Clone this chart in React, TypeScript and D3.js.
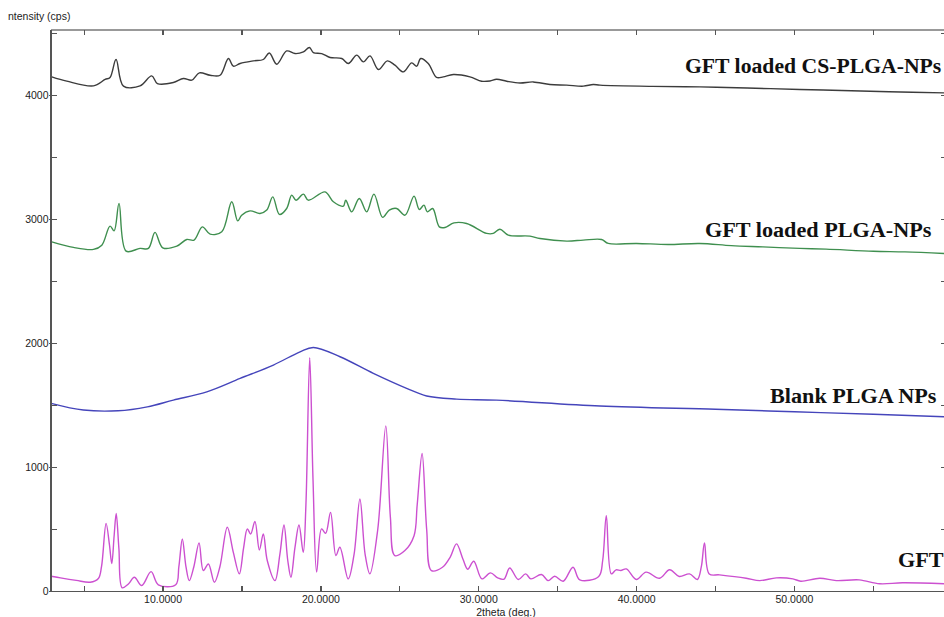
import React, { useRef, useEffect } from 'react';
import * as d3 from 'd3';

// [2theta (deg.), intensity (cps)]
const gftCsPlga: [number, number][] = [
  [2.95, 4152], [3.9, 4117], [5.59, 4079], [6.33, 4131], [6.64, 4147], [7.02, 4292], [7.49, 4077],
  [8.54, 4079], [9.28, 4160], [9.64, 4098], [10.65, 4106], [11.29, 4139], [11.82, 4125], [12.3, 4184],
  [12.98, 4165], [13.61, 4165], [14.14, 4300], [14.45, 4238], [14.88, 4260], [15.72, 4281], [16.35, 4292],
  [16.73, 4345], [17.2, 4254], [17.83, 4361], [18.36, 4340], [18.89, 4353], [19.27, 4389], [19.52, 4348],
  [20.05, 4340], [20.58, 4308], [21.32, 4300], [21.74, 4260], [22.27, 4327], [22.69, 4273], [23.11, 4321],
  [23.64, 4211], [24.21, 4281], [24.69, 4246], [25.22, 4192], [25.75, 4265], [26.07, 4238], [26.32, 4300],
  [26.8, 4260], [27.33, 4147], [27.75, 4152], [28.39, 4171], [29.44, 4152], [30.18, 4117], [30.71, 4119],
  [31.13, 4133], [31.77, 4117], [32.61, 4103], [33.45, 4111], [34.51, 4090], [35.57, 4085], [36.62, 4077],
  [37.25, 4090], [37.68, 4085], [41, 4075], [44.01, 4071], [47, 4062], [50.34, 4050], [53, 4042],
  [56, 4032], [59.5, 4023],
];

const gftPlga: [number, number][] = [
  [2.95, 2821], [4.32, 2776], [5.59, 2760], [6.12, 2794], [6.64, 2948], [6.9, 2910], [7.21, 3131],
  [7.66, 2746], [8.54, 2768], [9.07, 2768], [9.49, 2897], [9.98, 2773], [10.87, 2786], [11.5, 2840],
  [11.96, 2835], [12.49, 2942], [12.98, 2883], [13.72, 2902], [14.35, 3144], [14.73, 2990], [14.98, 3036],
  [15.51, 3071], [16.14, 3050], [16.57, 3077], [16.95, 3184], [17.37, 3042], [17.83, 3090], [18.15, 3198],
  [18.42, 3157], [18.89, 3206], [19.2, 3157], [20.26, 3224], [20.79, 3144], [21.42, 3109], [21.57, 3157],
  [21.95, 3063], [22.43, 3171], [22.9, 3063], [23.36, 3206], [23.91, 3018], [24.33, 3077], [24.8, 3090],
  [25.33, 3036], [25.9, 3190], [26.23, 3082], [26.53, 3117], [26.74, 3063], [27.08, 3090], [27.5, 2942],
  [27.86, 2937], [28.43, 2974], [29.23, 2969], [30.5, 2889], [30.92, 2889], [31.34, 2923], [31.87, 2875],
  [33.24, 2867], [33.88, 2848], [35.57, 2827], [36.62, 2835], [37.78, 2840], [38.2, 2808], [40, 2808],
  [42, 2800], [44, 2808], [46, 2790], [48, 2780], [50.34, 2768], [52, 2762], [55, 2745], [57, 2740],
  [59.5, 2727],
];

const blankPlga: [number, number][] = [
  [2.91, 1518], [4.95, 1464], [7.15, 1458], [9, 1490], [10.65, 1544], [12.77, 1611], [14.88, 1719],
  [16.99, 1827], [18.68, 1934], [19.52, 1969], [21.21, 1894], [23.32, 1760], [25.43, 1639], [26.7, 1577],
  [28.6, 1552], [31.13, 1544], [37.68, 1496], [45, 1470], [50, 1450], [55, 1430], [59.5, 1410],
];

const gft: [number, number][] = [
  [2.91, 123], [3.5, 110], [4.5, 90], [5.38, 75], [5.9, 105], [6.1, 200], [6.39, 550], [6.6, 380],
  [6.75, 225], [6.9, 450], [7.03, 630], [7.2, 350], [7.41, 30], [7.8, 60], [8.18, 115], [8.65, 48],
  [9.24, 160], [9.7, 54], [10.8, 54], [11.0, 200], [11.22, 424], [11.45, 200], [11.66, 88], [11.95, 200],
  [12.28, 392], [12.55, 169], [12.87, 222], [13.25, 75], [13.6, 200], [14.07, 518], [14.45, 316],
  [14.83, 142], [15.1, 350], [15.34, 505], [15.55, 464], [15.82, 566], [16.1, 335], [16.35, 464],
  [16.6, 250], [17.09, 88], [17.4, 300], [17.66, 537], [17.9, 250], [18.1, 115], [18.35, 350], [18.61, 537],
  [18.88, 316], [19.05, 700], [19.29, 1886], [19.5, 900], [19.73, 156], [20.04, 505], [20.3, 470],
  [20.61, 638], [20.95, 290], [21.2, 357], [21.73, 102], [22.1, 300], [22.47, 746], [22.8, 300],
  [23.1, 142], [23.6, 500], [24.11, 1336], [24.4, 600], [24.68, 290], [25.32, 330], [25.9, 450],
  [26.1, 700], [26.41, 1113], [26.7, 500], [27.0, 169], [27.7, 196], [28.2, 280], [28.59, 384],
  [29.0, 260], [29.3, 180], [29.68, 244], [30.2, 102], [30.74, 150], [31.2, 110], [31.6, 100],
  [31.96, 190], [32.5, 97], [32.97, 142], [33.3, 102], [33.97, 137], [34.4, 88], [34.81, 123],
  [35.35, 83], [35.97, 196], [36.4, 94], [37.6, 121], [37.85, 250], [38.08, 612], [38.4, 142],
  [38.7, 175], [39.0, 169], [39.35, 182], [39.98, 97], [40.6, 156], [41.45, 107], [42.09, 175],
  [42.7, 121], [43.35, 142], [43.85, 97], [44.1, 200], [44.3, 392], [44.6, 142], [45.25, 134],
  [46.94, 107], [47.8, 88], [48.85, 110], [49.9, 102], [50.4, 83], [51.6, 107], [52.65, 88], [54.1, 94],
  [55.4, 62], [56.85, 70], [59.5, 62],
];

const seriesNames = ['GFT loaded CS-PLGA-NPs', 'GFT loaded PLGA-NPs', 'Blank PLGA NPs', 'GFT'];
const xLabelTicks = [10, 20, 30, 40, 50];
const xMinorTicks = [5, 15, 25, 35, 45, 55];
const yLabelTicks = [0, 1000, 2000, 3000, 4000];
const yMinorTicks = [500, 1500, 2500, 3500, 4500];

const XRDChart = () => {
  const ref = useRef<SVGSVGElement>(null);

  useEffect(() => {
    const svg = d3.select(ref.current);
    svg.selectAll('*').remove();

    const left = 51, right = 946, top = 30, bottom = 591.5;
    const x = d3.scaleLinear().domain([2.9, 59.6]).range([left, right]);
    const y = d3.scaleLinear().domain([0, 4530]).range([bottom, top]);

    // label positions; the first one is squeezed a bit so it stays inside the frame
    const series = [
      { name: seriesNames[0], data: gftCsPlga, color: '#3c3c3c', lx: 685, ly: 73, sx: 1.085 },
      { name: seriesNames[1], data: gftPlga, color: '#3f8f4f', lx: 705, ly: 237, sx: 1.11 },
      { name: seriesNames[2], data: blankPlga, color: '#4545bb', lx: 770, ly: 402.5, sx: 1.11 },
      { name: seriesNames[3], data: gft, color: '#cc50d0', lx: 898, ly: 567, sx: 1.11 },
    ];

    const line = d3.line<[number, number]>()
      .x(d => x(d[0]))
      .y(d => y(d[1]))
      .curve(d3.curveCatmullRom.alpha(0.5));

    const plot = svg.append('g');
    series.forEach(s => {
      plot.append('path')
        .datum(s.data)
        .attr('fill', 'none')
        .attr('stroke', s.color)
        .attr('stroke-width', 1.4)
        .attr('stroke-linejoin', 'round')
        .attr('d', line);
    });

    // frame
    const axes = svg.append('g').attr('shape-rendering', 'crispEdges');
    axes.append('line').attr('x1', left).attr('x2', right).attr('y1', top).attr('y2', top)
      .attr('stroke', '#999').attr('stroke-width', 1.5);
    axes.append('line').attr('x1', left).attr('x2', left).attr('y1', top).attr('y2', bottom)
      .attr('stroke', '#555').attr('stroke-width', 1.5);
    axes.append('line').attr('x1', left).attr('x2', right).attr('y1', bottom).attr('y2', bottom)
      .attr('stroke', '#555').attr('stroke-width', 1.5);
    axes.append('line').attr('x1', right).attr('x2', right).attr('y1', top).attr('y2', bottom)
      .attr('stroke', '#555').attr('stroke-width', 1.5);

    // x ticks, bottom and top, pointing inwards
    [...xLabelTicks, ...xMinorTicks].forEach(t => {
      axes.append('line').attr('x1', x(t)).attr('x2', x(t)).attr('y1', bottom).attr('y2', bottom - 6)
        .attr('stroke', '#555').attr('stroke-width', 1.2);
      axes.append('line').attr('x1', x(t)).attr('x2', x(t)).attr('y1', top).attr('y2', top + 5)
        .attr('stroke', '#555').attr('stroke-width', 1.2);
    });

    // y ticks, left and right
    yLabelTicks.forEach(t => {
      axes.append('line').attr('x1', left - 2).attr('x2', left + 6).attr('y1', y(t)).attr('y2', y(t))
        .attr('stroke', '#555').attr('stroke-width', 1.2);
    });
    [...yLabelTicks, ...yMinorTicks].forEach(t => {
      if (t === 0) return;
      if (!yLabelTicks.includes(t)) {
        axes.append('line').attr('x1', left).attr('x2', left + 6).attr('y1', y(t)).attr('y2', y(t))
          .attr('stroke', '#555').attr('stroke-width', 1.2);
      }
      axes.append('line').attr('x1', right).attr('x2', right - 5).attr('y1', y(t)).attr('y2', y(t))
        .attr('stroke', '#555').attr('stroke-width', 1.2);
    });

    const txt = svg.append('g')
      .attr('font-family', 'Liberation Sans, Arial, sans-serif')
      .attr('font-size', 10.5)
      .attr('fill', '#222');

    yLabelTicks.forEach(t => {
      txt.append('text').attr('x', left - 2.5).attr('y', y(t)).attr('dy', '0.35em')
        .attr('text-anchor', 'end').text(t);
    });
    xLabelTicks.forEach(t => {
      txt.append('text').attr('x', x(t)).attr('y', 603)
        .attr('text-anchor', 'middle').text(d3.format('.4f')(t));
    });
    txt.append('text').attr('x', 506).attr('y', 616).attr('text-anchor', 'middle').text('2theta (deg.)');
    txt.append('text').attr('x', 8).attr('y', 20).text('ntensity (cps)');

    // series labels
    series.forEach(s => {
      svg.append('text')
        .attr('transform', `translate(${s.lx},${s.ly}) scale(${s.sx},1)`)
        .attr('font-family', 'Liberation Serif, Times New Roman, serif')
        .attr('font-weight', 'bold')
        .attr('font-size', 20)
        .attr('fill', '#111')
        .text(s.name);
    });
  }, []);

  return (
    <svg ref={ref} width={944} height={617}
      style={{ position: 'absolute', left: 0, top: 0, background: '#fff', display: 'block' }} />
  );
};

export default function App() {
  return <XRDChart />;
}
